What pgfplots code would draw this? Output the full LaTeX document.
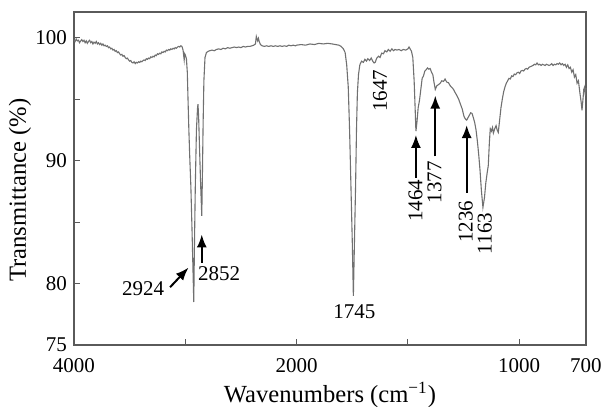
\documentclass[border=0pt]{standalone}
\usepackage{fontspec}
\setmainfont{Liberation Serif}
\usepackage{pgfplots}
\pgfplotsset{compat=1.18}
\usetikzlibrary{arrows.meta}
\definecolor{spec}{HTML}{707070}
\definecolor{axc}{HTML}{5A5A5A}
\begin{document}
\begin{tikzpicture}
\useasboundingbox (-37pt,-31pt) rectangle (266pt,172.5pt);
\begin{axis}[
  at={(0,0)}, anchor=south west,
  scale only axis, width=256pt, height=166.5pt,
  x coord trafo/.code={\pgfmathparse{#1>=2000 ? 4000-#1 : 6000-2*#1}},
  xmin=4000, xmax=700, ymin=75, ymax=102.1,
  xtick={4000,3000,2000,1500,1000,700},
  xticklabels={4000,,2000,,1000,700},
  ytick={75,80,85,90,95,100},
  yticklabels={75,80,,90,,100},
  tick pos=left, tick align=inside,
  major tick length=3pt,
  axis line style={axc, line width=0.6pt},
  every tick/.style={axc, line width=0.5pt},
  tick label style={font=\fontsize{10.5}{12}\selectfont},
  /pgf/number format/assume math mode=true,
  xticklabel style={yshift=-3pt},
  xlabel={Wavenumbers (cm\textsuperscript{−1})},
  ylabel={Transmittance (\%)},
  label style={font=\fontsize{12.3}{14}\selectfont},
  xlabel style={at={(axis description cs:0.5,0)}, anchor=center, yshift=-25pt},
  ylabel style={at={(axis description cs:0,0.465)}, anchor=center, rotate=0, yshift=27pt},
  clip=false,
]
\addplot[spec, line width=0.55pt, mark=none] coordinates {
(4000,99.85)(3990,99.7)(3980,99.9)(3970,99.75)(3960,99.8)(3950,99.6)(3940,99.75)(3930,99.85)(3920,99.7)(3910,99.8)
(3900,99.6)(3890,99.75)(3880,99.55)(3870,99.7)(3860,99.8)(3850,99.6)(3840,99.7)(3830,99.5)(3820,99.65)(3810,99.55)
(3800,99.7)(3790,99.5)(3780,99.6)(3770,99.45)(3760,99.55)(3750,99.4)(3740,99.5)(3730,99.35)(3720,99.4)(3710,99.3)
(3700,99.35)(3690,99.2)(3680,99.25)(3670,99.1)(3660,99.15)(3650,99.0)(3640,99.05)(3630,98.9)(3620,98.95)(3610,98.8)
(3600,98.85)(3590,98.7)(3580,98.6)(3570,98.65)(3560,98.5)(3550,98.55)(3540,98.4)(3530,98.3)(3520,98.35)(3510,98.2)
(3500,98.1)(3490,98.15)(3480,98.0)(3470,97.95)(3460,98.05)(3450,97.9)(3440,98.0)(3430,97.95)(3420,98.05)(3410,98.0)
(3400,98.1)(3390,98.05)(3380,98.15)(3370,98.2)(3360,98.15)(3350,98.3)(3340,98.25)(3330,98.35)(3320,98.3)(3310,98.45)
(3300,98.4)(3290,98.5)(3280,98.45)(3270,98.6)(3260,98.55)(3250,98.7)(3240,98.65)(3230,98.75)(3220,98.7)(3210,98.85)
(3200,98.8)(3190,98.9)(3180,98.85)(3170,99.0)(3160,98.95)(3150,99.05)(3140,99.0)(3130,99.1)(3120,99.05)(3110,99.15)
(3100,99.1)(3090,99.2)(3080,99.15)(3070,99.25)(3060,99.3)(3050,99.25)(3040,99.35)(3030,99.3)(3020,99.0)(3015,98.6)
(3010,98.2)(3005,98.7)(3000,98.6)(2990,98.3)(2982,97.2)(2975,94.8)(2968,92.5)(2960,90.3)(2950,87.9)(2940,84.5)
(2932,81.5)(2924,78.5)(2918,83)(2910,88)(2900,92.5)(2890,94.3)(2886,94.6)(2880,93.5)(2872,91)(2862,88)
(2852,85.5)(2846,89)(2840,93)(2833,96.5)(2823,98.4)(2810,98.8)(2795,98.9)
(2780,98.95)(2760,99.0)(2740,98.95)(2720,99.05)(2700,99.1)(2680,99.05)(2660,99.15)(2640,99.1)(2620,99.2)(2600,99.15)
(2580,99.2)(2560,99.25)(2540,99.2)(2520,99.25)(2500,99.2)(2480,99.3)(2460,99.25)(2440,99.3)(2420,99.3)(2400,99.35)
(2385,99.4)(2370,99.5)(2362,100.1)(2356,99.9)(2350,99.75)(2343,99.95)(2336,99.7)(2325,99.45)(2310,99.35)(2290,99.3)
(2270,99.35)(2250,99.3)(2230,99.35)(2210,99.3)(2190,99.35)(2170,99.3)(2150,99.35)(2130,99.3)(2110,99.35)(2090,99.3)
(2070,99.4)(2050,99.35)(2030,99.4)(2010,99.35)(2000,99.4)(1980,99.45)(1960,99.4)(1940,99.5)(1920,99.45)(1900,99.55)
(1880,99.5)(1860,99.55)(1840,99.5)(1825,99.45)(1810,99.4)(1800,99.3)(1790,99.1)(1782,98.8)(1775,97.8)(1768,96.0)
(1762,92.5)(1756,88.0)(1750,83.5)(1745,79.0)(1740,83.5)(1735,88.0)(1731,92.5)(1727,95.5)(1722,97.0)(1716,97.8)
(1708,98.1)(1700,98.0)(1693,98.25)(1686,98.1)(1680,98.3)(1672,98.15)(1665,98.35)(1658,98.1)(1652,97.95)(1647,98.0)
(1640,98.35)(1632,98.5)(1625,98.4)(1618,98.75)(1610,98.7)(1603,98.95)(1595,98.85)(1588,99.05)(1580,98.9)(1572,99.1)
(1565,98.95)(1558,99.05)(1550,99.0)(1540,99.05)(1530,98.95)(1521,99.05)(1510,99.0)(1500,99.1)(1495,99.25)(1490,99.1)
(1484,98.9)(1478,98.4)(1472,96.5)(1468,94.5)(1464,92.4)(1459,93.2)(1454,94.3)(1448,94.9)(1442,95.8)(1436,96.7)
(1430,96.9)(1424,97.3)(1418,97.4)(1412,97.55)(1406,97.45)(1400,97.5)(1394,97.2)(1388,97.0)(1383,96.4)(1377,95.8)
(1370,96.1)(1362,96.2)(1355,96.3)(1348,96.5)(1340,96.45)(1333,96.65)(1326,96.4)(1318,96.35)(1310,96.1)(1302,95.95)
(1295,95.8)(1288,95.55)(1280,95.3)(1272,95.0)(1264,94.6)(1256,94.2)(1248,93.6)(1242,93.4)(1236,93.3)(1230,93.5)
(1224,93.7)(1218,93.9)(1212,93.85)(1206,93.5)(1200,93.1)(1194,92.5)(1188,91.6)(1182,90.5)(1176,89.2)(1170,87.6)
(1163,86.2)(1156,87.0)(1150,88.2)(1144,89.0)(1139,89.6)(1134,91.5)(1130,92.6)(1125,92.4)(1120,92.7)(1116,92.25)
(1110,92.6)(1104,92.85)(1099,92.5)(1094,92.3)(1088,93.3)(1082,94.3)(1076,95.0)(1070,95.6)(1064,96.0)(1058,96.3)
(1052,96.5)(1046,96.7)(1040,96.65)(1034,96.9)(1028,96.85)(1022,97.05)(1016,97.0)(1010,97.15)(1004,97.2)(998,97.1)
(992,97.3)(986,97.35)(980,97.3)(974,97.45)(968,97.5)(962,97.45)(956,97.6)(950,97.65)(944,97.7)(938,97.75)
(932,97.85)(926,97.8)(920,97.95)(914,97.8)(908,97.85)(902,97.75)(896,97.85)(890,97.8)(884,97.75)(878,97.85)
(872,97.8)(866,97.75)(860,97.8)(854,97.9)(848,97.75)(842,97.85)(836,97.8)(830,97.9)(824,97.85)(818,97.95)
(812,97.8)(806,97.9)(800,97.75)(794,97.85)(788,97.6)(782,97.8)(776,97.5)(770,97.6)(764,97.2)(758,97.4)
(752,96.8)(746,97.0)(740,96.3)(734,96.5)(728,95.6)(722,94.8)(718,94.1)(714,94.9)(710,95.8)(706,96.0)
(703,95.3)(700,95.9)
};
\begin{scope}[every node/.style={font=\fontsize{10.5}{12}\selectfont, inner sep=0pt}]
\draw[black, line width=1pt, -{Latex[length=6.5pt,width=5pt]}] (axis cs:3137,79.7) -- (axis cs:2971,81.3);
\node at (axis cs:3380,79.6) {2924};
\draw[black, line width=1pt, -{Latex[length=6.5pt,width=5pt]}] (axis cs:2852,81.7) -- (axis cs:2852,84.0);
\node at (axis cs:2697,80.8) {2852};
\node at (axis cs:1741,77.7) {1745};
\node[rotate=90] at (axis cs:1625,95.7) {1647};
\draw[black, line width=1pt, -{Latex[length=6.5pt,width=5pt]}] (axis cs:1464,88.6) -- (axis cs:1464,92.1);
\node[rotate=90] at (axis cs:1466,86.75) {1464};
\draw[black, line width=1pt, -{Latex[length=6.5pt,width=5pt]}] (axis cs:1377,90.35) -- (axis cs:1377,95.3);
\node[rotate=90] at (axis cs:1380,88.25) {1377};
\draw[black, line width=1pt, -{Latex[length=6.5pt,width=5pt]}] (axis cs:1236,87.4) -- (axis cs:1236,92.9);
\node[rotate=90] at (axis cs:1240,85.05) {1236};
\node[rotate=90] at (axis cs:1155,84.07) {1163};
\end{scope}
\end{axis}
\end{tikzpicture}
\end{document}
